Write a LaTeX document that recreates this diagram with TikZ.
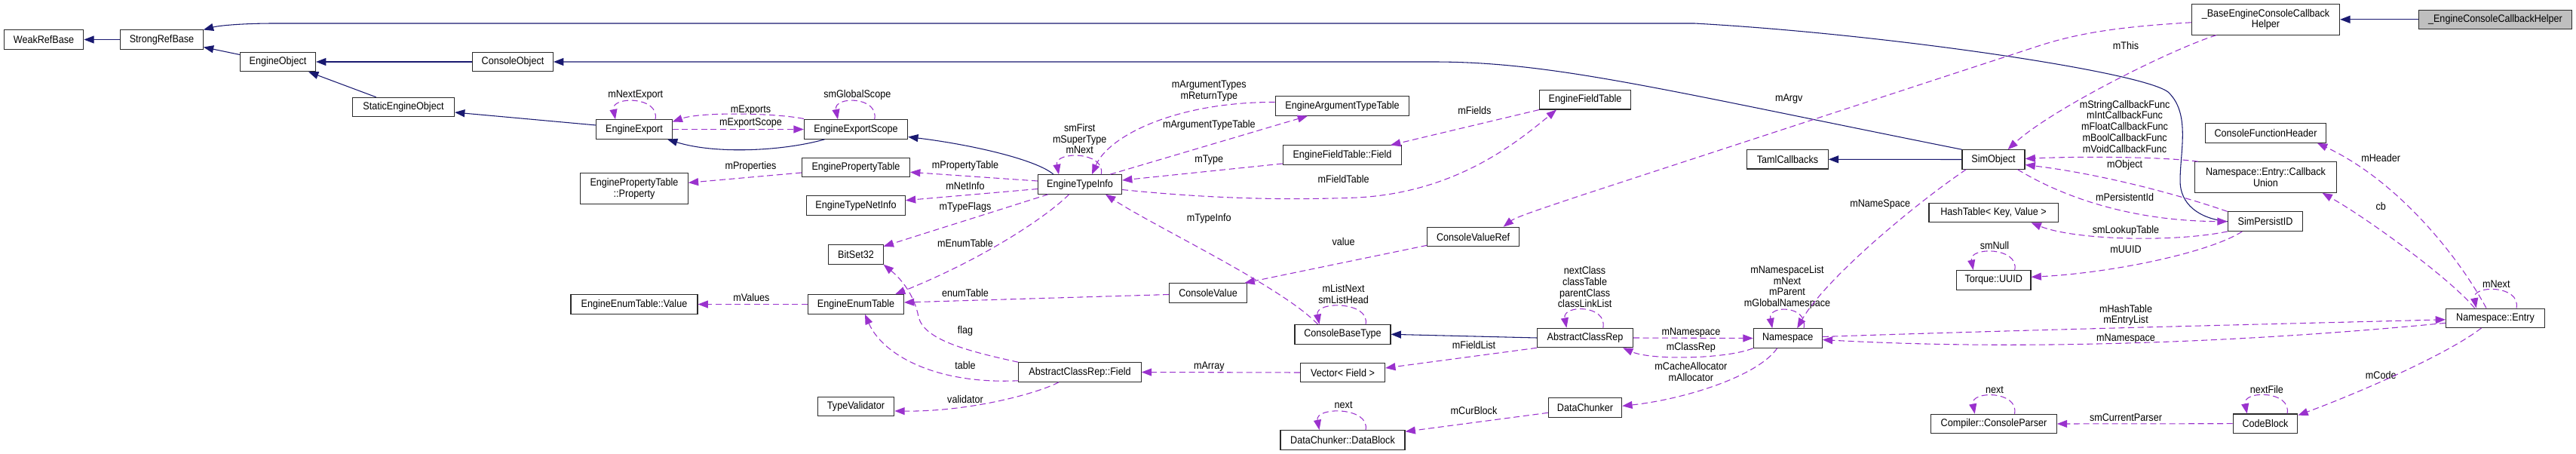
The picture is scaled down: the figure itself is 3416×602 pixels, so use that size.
\documentclass[tikz,border=0pt]{standalone}
\usepackage{fontspec}
\setmainfont{Liberation Sans}[FakeStretch=0.9]
\usetikzlibrary{arrows.meta,calc}
\definecolor{inhc}{HTML}{191970}
\definecolor{usec}{HTML}{9A32CD}
\definecolor{boxc}{HTML}{2A2A2A}
\definecolor{curc}{HTML}{BFBFBF}
\newcommand\dgfont{\fontsize{10.5}{11.1}\selectfont}
\tikzset{
 cls/.style={draw=boxc, line width=0.8pt, fill=white, inner sep=0pt, minimum height=19.1pt, font=\dgfont, align=center, text=black},
 cls2/.style={cls, minimum height=30.4pt},
 inh/.style={draw=inhc, line width=0.8pt, -{Triangle[length=10pt,width=7.5pt]}},
 use/.style={draw=usec, line width=0.8pt, dash pattern=on 6pt off 3.5pt, -{Triangle[length=10pt,width=7.5pt]}},
 lab/.style={font=\dgfont, inner sep=0pt, align=center},
}
\begin{document}
\begin{tikzpicture}[x=0.75pt,y=-0.75pt]
\useasboundingbox (0,0) rectangle (3416,602);
% classes
\node[cls, minimum width=79.2pt] (weak) at (58,52.5) {WeakRefBase};
\node[cls, minimum width=82.2pt] (strong) at (214.5,52.5) {StrongRefBase};
\node[cls, minimum width=75pt] (eobj) at (368.5,82) {EngineObject};
\node[cls, minimum width=80.25pt] (cobj) at (680,82) {ConsoleObject};
\node[cls, minimum width=101.25pt] (seobj) at (535,142) {StaticEngineObject};
\node[cls, minimum width=75.2pt] (eexp) at (841,171.5) {EngineExport};
\node[cls, minimum width=103pt] (escope) at (1135,171.5) {EngineExportScope};
\node[cls, minimum width=107.25pt] (eprop) at (1135,222) {EnginePropertyTable};
\node[cls2, minimum width=106.9pt] (eprop2) at (841,250) {EnginePropertyTable\\::Property};
\node[cls, minimum width=98pt] (enet) at (1135,272.5) {EngineTypeNetInfo};
\node[cls, minimum width=54.15pt] (bitset) at (1135,337.5) {BitSet32};
\node[cls, minimum width=95.1pt] (eenum) at (1135,403.5) {EngineEnumTable};
\node[cls, minimum width=126pt] (evalue) at (841,403.5) {EngineEnumTable::Value};
\node[cls, minimum width=76.2pt] (tval) at (1135,539) {TypeValidator};
\node[cls, minimum width=121.8pt] (acrf) at (1432,493.5) {AbstractClassRep::Field};
\node[cls, minimum width=83.25pt] (eti) at (1432,244.5) {EngineTypeInfo};
\node[cls, minimum width=133.3pt] (eatt) at (1780,140.5) {EngineArgumentTypeTable};
\node[cls, minimum width=118.1pt] (eftf) at (1780,205.7) {EngineFieldTable::Field};
\node[cls, minimum width=90.75pt] (eft) at (2102,132.3) {EngineFieldTable};
\node[cls, minimum width=91.1pt] (cvr) at (1953.6,314) {ConsoleValueRef};
\node[cls, minimum width=76.9pt] (cv) at (1602,388.5) {ConsoleValue};
\node[cls, minimum width=95.25pt] (cbt) at (1780.5,443.3) {ConsoleBaseType};
\node[cls, minimum width=84.15pt] (vec) at (1780.5,494) {Vector< Field >};
\node[cls, minimum width=123.75pt] (dblock) at (1780.5,583.3) {DataChunker::DataBlock};
\node[cls, minimum width=95.25pt] (acr) at (2102,448) {AbstractClassRep};
\node[cls, minimum width=80.55pt] (taml) at (2370.5,211.3) {TamlCallbacks};
\node[cls, minimum width=62.25pt] (simobj) at (2643.5,211.5) {SimObject};
\node[cls, minimum width=128.25pt] (hash) at (2643.5,282) {HashTable< Key, Value >};
\node[cls, minimum width=68.25pt] (ns) at (2370.7,448.5) {Namespace};
\node[cls, minimum width=73pt] (dchunk) at (2102,540.3) {DataChunker};
\node[cls, minimum width=73.9pt] (uuid) at (2643.7,371.3) {Torque::UUID};
\node[cls, minimum width=125pt] (cparser) at (2644,562) {Compiler::ConsoleParser};
\node[cls2, minimum width=147.15pt] (becch) at (3004.5,25.8) {\_BaseEngineConsoleCallback\\Helper};
\node[cls, minimum width=152.5pt, fill=curc] (ecch) at (3309,25.8) {\_EngineConsoleCallbackHelper};
\node[cls, minimum width=119.85pt] (cfh) at (3004.5,176.5) {ConsoleFunctionHeader};
\node[cls2, minimum width=141.15pt] (cbu) at (3004.5,235) {Namespace::Entry::Callback\\Union};
\node[cls, minimum width=74.55pt] (spid) at (3004,293.7) {SimPersistID};
\node[cls, minimum width=98.25pt] (nse) at (3309,421.8) {Namespace::Entry};
\node[cls, minimum width=64.2pt] (cblock) at (3004,561.7) {CodeBlock};
% labels
\node[lab] (l1) at (842.8,125.7) {mNextExport};
\node[lab] (l2) at (1136.8,125.7) {smGlobalScope};
\node[lab] (l3) at (995.5,145.7) {mExports};
\node[lab] (l4) at (995.5,162.7) {mExportScope};
\node[lab] (l5) at (995.5,221) {mProperties};
\node[lab] (l6) at (1280,220.3) {mPropertyTable};
\node[lab] (l7) at (1280,246.7) {mNetInfo};
\node[lab] (l8) at (1280,275) {mTypeFlags};
\node[lab] (l9) at (1280,322.3) {mEnumTable};
\node[lab] (l10) at (996.4,394.7) {mValues};
\node[lab] (l11) at (1280,388) {enumTable};
\node[lab] (l12) at (1280,438.7) {flag};
\node[lab] (l13) at (1280,484.3) {table};
\node[lab] (l14) at (1280,529.3) {validator};
\node[lab] (l15) at (1431.7,184) {smFirst\\mSuperType\\mNext};
\node[lab] (l16) at (1603.3,121) {mArgumentTypes\\mReturnType};
\node[lab] (l17) at (1603.3,166) {mArgumentTypeTable};
\node[lab] (l18) at (1603.3,212.3) {mType};
\node[lab] (l19) at (1781.6,237.7) {mFieldTable};
\node[lab] (l20) at (1955.4,146.3) {mFields};
\node[lab] (l21) at (1603.3,290.3) {mTypeInfo};
\node[lab] (l22) at (1781.6,320.3) {value};
\node[lab] (l23) at (1781.6,389.7) {mListNext\\smListHead};
\node[lab] (l24) at (1954.5,457.3) {mFieldList};
\node[lab] (l25) at (1603.3,485.7) {mArray};
\node[lab] (l26) at (1781.6,537.3) {next};
\node[lab] (l27) at (1954.5,544.3) {mCurBlock};
\node[lab] (l28) at (2372.2,130.7) {mArgv};
\node[lab] (l29) at (2493.2,270.7) {mNameSpace};
\node[lab] (l30) at (2101.6,380.7) {nextClass\\classTable\\parentClass\\classLinkList};
\node[lab] (l31) at (2370,380.8) {mNamespaceList\\mNext\\mParent\\mGlobalNamespace};
\node[lab] (l32) at (2242.4,440.7) {mNamespace};
\node[lab] (l33) at (2242.4,461.3) {mClassRep};
\node[lab] (l34) at (2242.4,493) {mCacheAllocator\\mAllocator};
\node[lab] (l35) at (2645,325.3) {smNull};
\node[lab] (l36) at (2645,516.7) {next};
\node[lab] (l37) at (2819,60.7) {mThis};
\node[lab] (l38) at (2817.6,167.7) {mStringCallbackFunc\\mIntCallbackFunc\\mFloatCallbackFunc\\mBoolCallbackFunc\\mVoidCallbackFunc};
\node[lab] (l39) at (2817.6,218.7) {mObject};
\node[lab] (l40) at (2817.6,261.3) {mPersistentId};
\node[lab] (l41) at (3157.2,209.7) {mHeader};
\node[lab] (l42) at (3157.2,273.7) {cb};
\node[lab] (l43) at (2819,306.3) {smLookupTable};
\node[lab] (l44) at (2819,330.3) {mUUID};
\node[lab] (l45) at (3310.3,376.7) {mNext};
\node[lab] (l46) at (2819,417.8) {mHashTable\\mEntryList};
\node[lab] (l47) at (2819,448.7) {mNamespace};
\node[lab] (l48) at (3157.2,497.3) {mCode};
\node[lab] (l49) at (3005.8,516.3) {nextFile};
\node[lab] (l50) at (2819,553.7) {smCurrentParser};
% inheritance
\draw[inh] (strong.west) -- (weak.east);
\draw[inh] ($(eobj.west)+(0,-9.5)$) -- ($(strong.east)+(0,10)$);
\draw[inh] (cobj.west) -- (eobj.east);
\draw[inh] ($(seobj.north)+(-36.4,0)$) -- ($(eobj.south)+(40.5,0)$);
\draw[inh] ($(eexp.west)+(0,-5.5)$) -- ($(seobj.east)+(0,7)$);
\draw[inh] ($(escope.south)+(-41.4,0)$) .. controls (1040,200) and (950,205) .. ($(eexp.south)+(44,0)$);
\draw[inh] ($(eti.north)+(-35,0)$) .. controls (1375,212) and (1290,192) .. ($(escope.east)+(0,10)$);
\draw[inh] (simobj.north west) .. controls (2200,118) and (2060,82) .. (1900,82) -- (cobj.east);
\draw[inh] (simobj.west) -- (taml.east);
\draw[inh] (spid.west) .. controls (2915,290) and (2891,270) .. (2891,240) .. controls (2891,200) and (2905,150) .. (2875,122) .. controls (2840,95) and (2500,45) .. (2247,31) -- (365,31) .. controls (320,31) and (290,34) .. ($(strong.east)+(0,-13)$);
\draw[inh] (acr.west) -- (cbt.east);
\draw[inh] (ecch.west) -- (becch.east);
% self loops
\draw[use] ($(eexp.north)+(28,0)$) .. controls +(6,-31) and +(-6,-31) .. ($(eexp.north)+(-25,0)$);
\draw[use] ($(escope.north)+(24.7,0)$) .. controls +(6,-31) and +(-6,-31) .. ($(escope.north)+(-24,0)$);
\draw[use] ($(eti.north)+(28.3,0)$) .. controls +(6,-31) and +(-6,-31) .. ($(eti.north)+(-28,0)$);
\draw[use] ($(cbt.north)+(30.5,0)$) .. controls +(6,-31) and +(-6,-31) .. ($(cbt.north)+(-31,0)$);
\draw[use] ($(dblock.north)+(30.5,0)$) .. controls +(6,-31) and +(-6,-31) .. ($(dblock.north)+(-31,0)$);
\draw[use] ($(acr.north)+(23.8,0)$) .. controls +(6,-31) and +(-6,-31) .. ($(acr.north)+(-24.6,0)$);
\draw[use] ($(ns.north)+(21.3,0)$) .. controls +(6,-31) and +(-6,-31) .. ($(ns.north)+(-20.5,0)$);
\draw[use] ($(uuid.north)+(28,0)$) .. controls +(6,-31) and +(-6,-31) .. ($(uuid.north)+(-27,0)$);
\draw[use] ($(cparser.north)+(27.5,0)$) .. controls +(6,-31) and +(-6,-31) .. ($(cparser.north)+(-25.3,0)$);
\draw[use] ($(cblock.north)+(29,0)$) .. controls +(6,-31) and +(-6,-31) .. ($(cblock.north)+(-24.3,0)$);
\draw[use] ($(nse.north)+(28,0)$) .. controls +(6,-31) and +(-6,-31) .. ($(nse.north)+(-25.3,0)$);
% usage
\draw[use] ($(escope.west)+(0,-14)$) .. controls (1030,150) and (930,148) .. ($(eexp.east)+(0,-10)$);
\draw[use] (eexp.east) -- (escope.west);
\draw[use] ($(eprop.west)+(0,7)$) -- ($(eprop2.east)+(0,-7.7)$);
\draw[use] ($(eti.west)+(0,-4.5)$) -- ($(eprop.east)+(0,6.3)$);
\draw[use] ($(eti.west)+(0,6)$) -- ($(enet.east)+(0,-6.8)$);
\draw[use] ($(eti.south)+(-42,0)$) -- ($(bitset.east)+(0,-10.8)$);
\draw[use] ($(eti.south)+(-14.3,0)$) .. controls (1385,290) and (1300,345) .. ($(eenum.north)+(52,0)$);
\draw[use] (eenum.west) -- (evalue.east);
\draw[use] ($(eatt.west)+(0,-5)$) .. controls (1560,135) and (1470,180) .. ($(eti.north)+(16,0)$);
\draw[use] ($(eti.north)+(40,0)$) -- ($(eatt.south)+(-46,0)$);
\draw[use] ($(eftf.west)+(0,11.3)$) -- ($(eti.east)+(0,-5.5)$);
\draw[use] ($(eti.east)+(0,7)$) .. controls (1620,265) and (1720,265) .. (1800,262) .. controls (1930,255) and (2010,190) .. ($(eft.south)+(-38,0)$);
\draw[use] (eft.south west) -- ($(eftf.north)+(64,0)$);
\draw[use] ($(cbt.north)+(-33,0)$) .. controls (1700,380) and (1530,300) .. ($(eti.south)+(34,0)$);
\draw[use] ($(cvr.west)+(0,11.3)$) -- ($(cv.north)+(48.4,0)$);
\draw[use] ($(becch.west)+(0,4)$) .. controls (2820,35) and (2760,42) .. (2700,62) -- (2100,258) .. controls (2040,278) and (2010,288) .. ($(cvr.north)+(40,0)$);
\draw[use] ($(cv.west)+(0,2)$) -- ($(eenum.east)+(0,-2.5)$);
\draw[use] (acrf.north west) .. controls (1280,465) and (1225,450) .. (1218,420) .. controls (1212,390) and (1195,370) .. (bitset.south east);
\draw[use] ($(acrf.south west)+(0,-2)$) .. controls (1240,510) and (1170,470) .. ($(eenum.south)+(12,0)$);
\draw[use] ($(acrf.south)+(-28,0)$) .. controls (1380,520) and (1290,546) .. ($(tval.east)+(0,6)$);
\draw[use] (vec.west) -- (acrf.east);
\draw[use] (acr.south west) -- ($(vec.east)+(0,-6)$);
\draw[use] ($(dchunk.west)+(0,7)$) -- ($(dblock.east)+(0,-11)$);
\draw[use] (acr.east) -- (ns.west);
\draw[use] (ns.south west) .. controls (2290,476) and (2190,478) .. ($(acr.south)+(50,0)$);
\draw[use] ($(ns.south)+(-14,0)$) .. controls (2330,500) and (2230,530) .. ($(dchunk.east)+(0,-2)$);
\draw[use] ($(simobj.south west)+(5.7,0)$) .. controls (2540,270) and (2420,370) .. ($(ns.north)+(12.5,0)$);
\draw[use] ($(becch.south west)+(33.3,0)$) .. controls (2880,65) and (2720,145) .. ($(simobj.north)+(19,0)$);
\draw[use] ($(cbu.north west)+(5,0)$) .. controls (2870,208) and (2760,207) .. ($(simobj.east)+(0,-1)$);
\draw[use] (spid.north west) .. controls (2880,255) and (2780,230) .. ($(simobj.east)+(0,7)$);
\draw[use] ($(simobj.south east)+(-10,0)$) .. controls (2730,258) and (2820,293) .. (spid.west);
\draw[use] (spid.south west) .. controls (2880,322) and (2750,318) .. ($(hash.south)+(50,0)$);
\draw[use] ($(spid.south)+(-30.7,0)$) .. controls (2930,335) and (2800,362) .. ($(uuid.east)+(0,-4)$);
\draw[use] ($(ns.east)+(0,-2)$) .. controls (2700,437) and (3000,430) .. ($(nse.west)+(0,2)$);
\draw[use] ($(nse.west)+(0,6.5)$) .. controls (3000,452) and (2700,466) .. ($(ns.east)+(0,2)$);
\draw[use] ($(nse.north)+(-12,0)$) .. controls (3260,340) and (3180,240) .. ($(cfh.south)+(68.4,0)$);
\draw[use] ($(nse.north)+(-27.5,0)$) .. controls (3250,370) and (3140,290) .. ($(cbu.south)+(75,0)$);
\draw[use] ($(nse.south)+(-18.6,0)$) .. controls (3245,470) and (3130,520) .. ($(cblock.east)+(0,-11)$);
\draw[use] (cblock.west) -- (cparser.east);
\end{tikzpicture}
\end{document}
